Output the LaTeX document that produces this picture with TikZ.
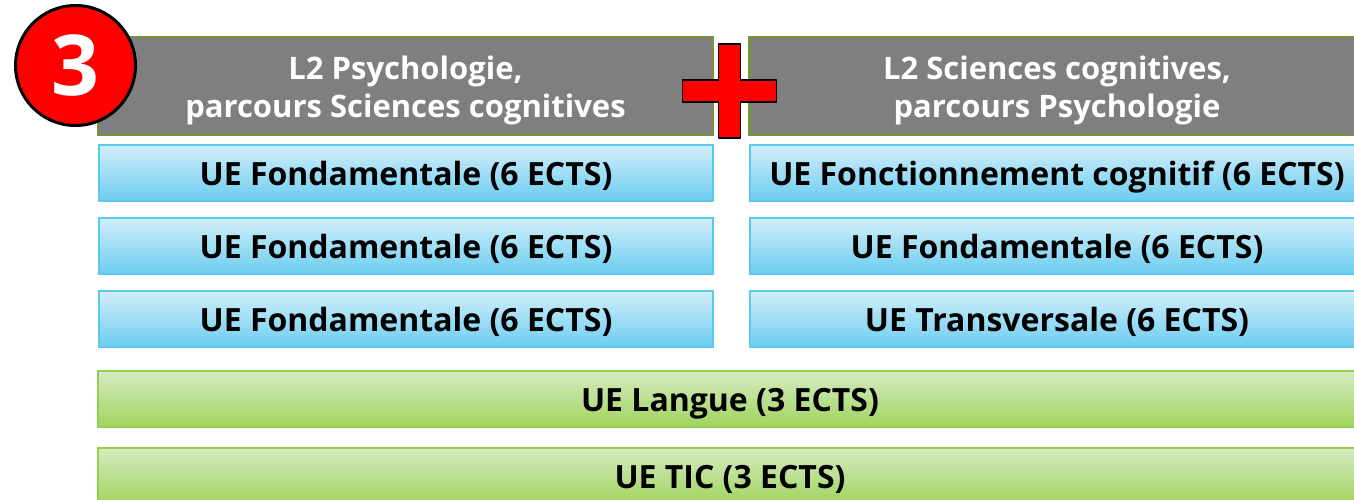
\documentclass[tikz,border=0pt]{standalone}
\usepackage{fontspec}
\setmainfont{Open Sans}
\definecolor{grisTitre}{HTML}{7F7F7F}
\definecolor{vertBord}{HTML}{77933C}
\definecolor{bleuHaut}{HTML}{D2EEFA}
\definecolor{bleuBas}{HTML}{6CCDF0}
\definecolor{bleuBord}{HTML}{5CC8EE}
\definecolor{vertHaut}{HTML}{D6EBC3}
\definecolor{vertBas}{HTML}{A0D45C}
\definecolor{vertClair}{HTML}{92D050}
\definecolor{rouge}{HTML}{FF0000}
\tikzset{
  titre/.style={draw=vertBord, line width=2.5pt, fill=grisTitre, text=white,
    font=\bfseries\fontsize{31}{38}\selectfont, align=center,
    text height=66pt, text depth=4pt,
    minimum width=615pt, minimum height=98pt, inner sep=0pt},
  ue/.style={draw=bleuBord, line width=2pt, top color=bleuHaut, bottom color=bleuBas,
    font=\bfseries\fontsize{32}{36}\selectfont,
    text height=30pt, text depth=6pt,
    minimum width=614pt, minimum height=56pt, inner sep=0pt},
  uelong/.style={ue, draw=vertClair, top color=vertHaut, bottom color=vertBas,
    minimum width=1264pt}
}
\begin{document}
\begin{tikzpicture}[x=1pt,y=-1pt]
  \useasboundingbox (0,0) rectangle (1354,499);
  % titres
  \node[titre] (psy) at (405.5,86) {L2 Psychologie,\\parcours Sciences cognitives};
  \node[titre] (cog) at (1057,86) {L2 Sciences cognitives,\\parcours Psychologie};
  % UE de gauche
  \node[ue] (g1) at (406,173) {UE Fondamentale (6 ECTS)};
  \node[ue] (g2) at (406,246) {UE Fondamentale (6 ECTS)};
  \node[ue] (g3) at (406,319) {UE Fondamentale (6 ECTS)};
  % UE de droite
  \node[ue] (d1) at (1057,173) {UE Fonctionnement cognitif (6 ECTS)};
  \node[ue] (d2) at (1057,246) {UE Fondamentale (6 ECTS)};
  \node[ue] (d3) at (1057,319) {UE Transversale (6 ECTS)};
  % UE communes
  \node[uelong] (langue) at (730,399) {UE Langue (3 ECTS)};
  \node[uelong] (tic) at (730,476) {UE TIC (3 ECTS)};
  % le signe plus
  \coordinate (plus) at (729.5,91);
  \draw[fill=rouge, line width=1.5pt, line join=round]
    ([shift={(-11,-47)}]plus) -- ([shift={(11,-47)}]plus) -- ([shift={(11,-11)}]plus)
    -- ([shift={(47,-11)}]plus) -- ([shift={(47,11)}]plus) -- ([shift={(11,11)}]plus)
    -- ([shift={(11,47)}]plus) -- ([shift={(-11,47)}]plus) -- ([shift={(-11,11)}]plus)
    -- ([shift={(-47,11)}]plus) -- ([shift={(-47,-11)}]plus) -- ([shift={(-11,-11)}]plus) -- cycle;
  % numero
  \node[circle, draw=black, line width=3pt, fill=rouge, text=white,
    minimum size=120pt, inner sep=0pt, font=\bfseries\fontsize{84}{84}\selectfont] (num) at (75.5,65.5) {3};
\end{tikzpicture}
\end{document}
